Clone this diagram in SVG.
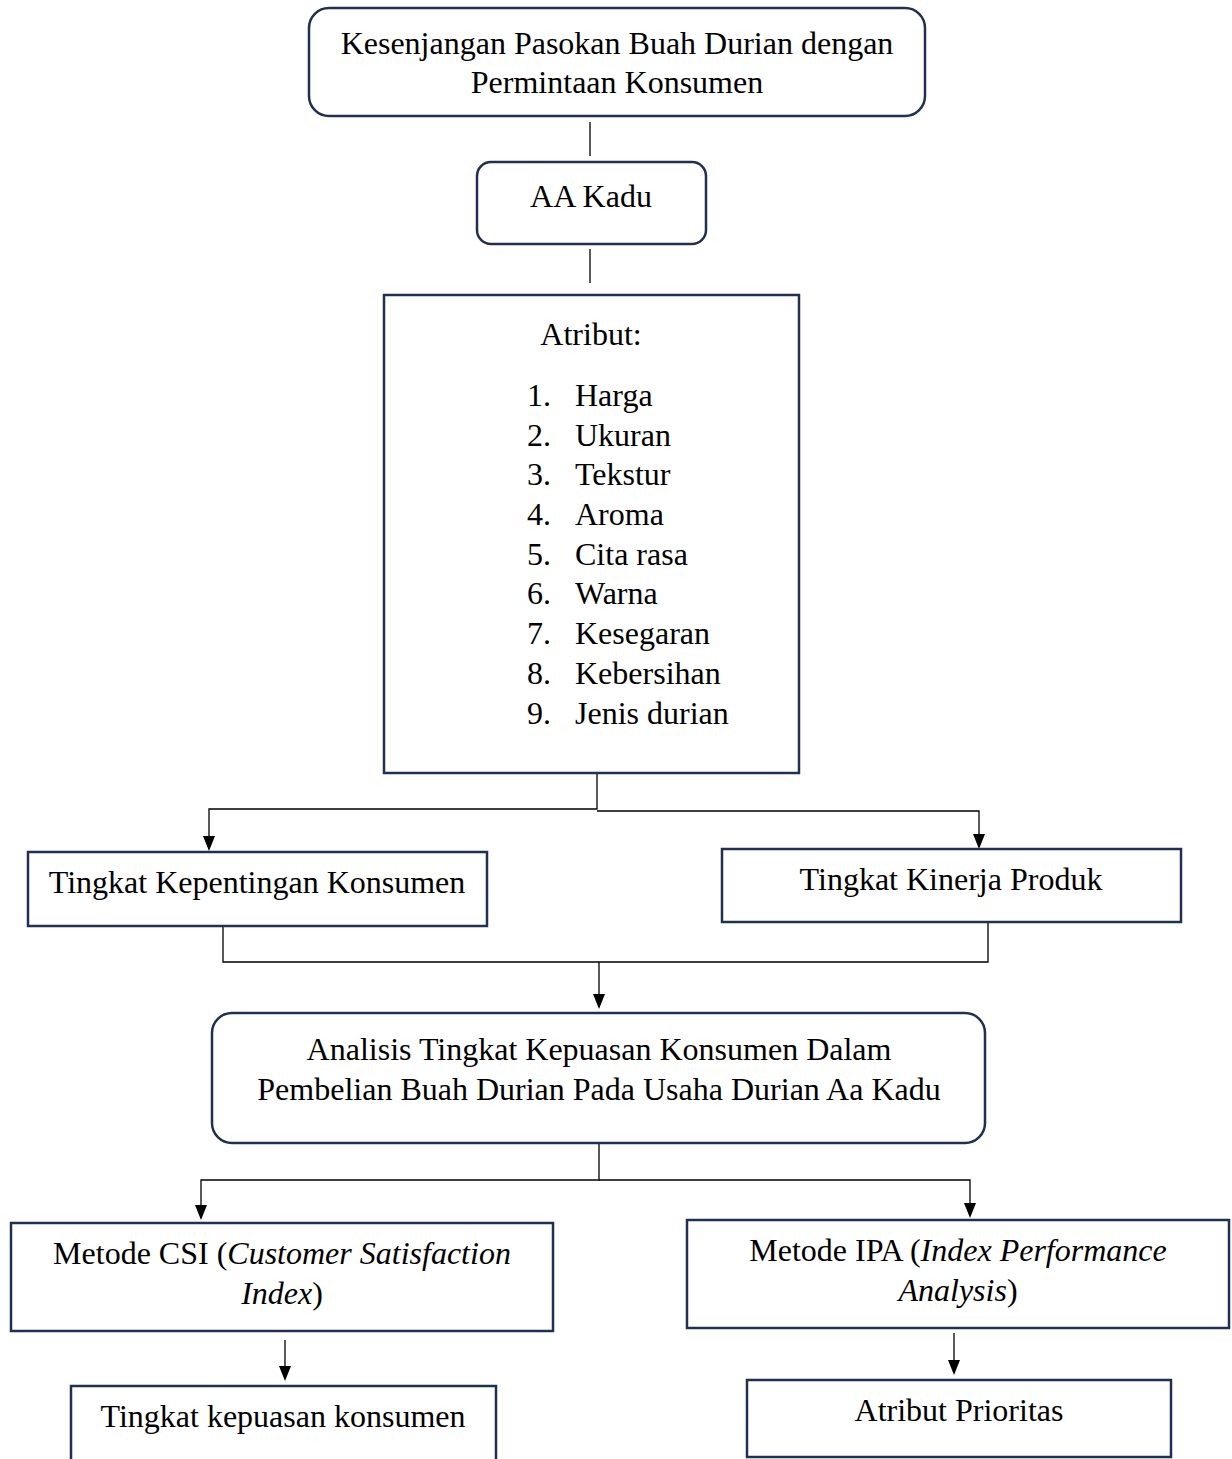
<svg xmlns="http://www.w3.org/2000/svg" width="1232" height="1459" viewBox="0 0 1232 1459">
<style>
.box{fill:#fff;stroke:#203050;stroke-width:2.5}
.t{font-family:"Liberation Serif","Times New Roman",serif;font-size:32px;fill:#000;text-anchor:middle}
.l{font-family:"Liberation Serif","Times New Roman",serif;font-size:32px;fill:#000}
.c{stroke:#000;stroke-width:1.3;fill:none}
.ah{fill:#000}
</style>
<rect width="1232" height="1459" fill="#fff"/>
<g id="connectors">
<line class="c" x1="590" y1="122" x2="590" y2="156"/>
<line class="c" x1="590" y1="249" x2="590" y2="283"/>
<polyline class="c" points="597,774 597,809 209,809 209,838"/>
<polyline class="c" points="597,811 979,811 979,836"/>
<path class="ah" d="M203,836 L215,836 L209,851 Z"/>
<path class="ah" d="M973,834 L985,834 L979,849 Z"/>
<polyline class="c" points="223,927 223,962 988,962 988,923"/>
<line class="c" x1="599" y1="962" x2="599" y2="996"/>
<path class="ah" d="M593,994 L605,994 L599,1009 Z"/>
<polyline class="c" points="599,1144 599,1180 201,1180 201,1208"/>
<polyline class="c" points="599,1180 970,1180 970,1206"/>
<path class="ah" d="M195,1205 L207,1205 L201,1220 Z"/>
<path class="ah" d="M964,1203 L976,1203 L970,1218 Z"/>
<line class="c" x1="285" y1="1340" x2="285" y2="1368"/>
<path class="ah" d="M279,1366 L291,1366 L285,1381 Z"/>
<line class="c" x1="954" y1="1333" x2="954" y2="1362"/>
<path class="ah" d="M948,1360 L960,1360 L954,1375 Z"/>
</g>
<g id="n-kesenjangan">
<rect class="box" x="309" y="8" width="616" height="108" rx="20"/>
<text class="t" x="617" y="54">Kesenjangan Pasokan Buah Durian dengan</text>
<text class="t" x="617" y="93">Permintaan Konsumen</text>
</g>
<g id="n-aakadu">
<rect class="box" x="477" y="162" width="229" height="82" rx="14"/>
<text class="t" x="591" y="207">AA Kadu</text>
</g>
<g id="n-atribut">
<rect class="box" x="384" y="295" width="415" height="478"/>
<text class="t" x="591" y="345">Atribut:</text>
<text class="l" x="527" y="406">1.</text><text class="l" x="575" y="406">Harga</text>
<text class="l" x="527" y="446">2.</text><text class="l" x="575" y="446">Ukuran</text>
<text class="l" x="527" y="485">3.</text><text class="l" x="575" y="485">Tekstur</text>
<text class="l" x="527" y="525">4.</text><text class="l" x="575" y="525">Aroma</text>
<text class="l" x="527" y="565">5.</text><text class="l" x="575" y="565">Cita rasa</text>
<text class="l" x="527" y="604">6.</text><text class="l" x="575" y="604">Warna</text>
<text class="l" x="527" y="644">7.</text><text class="l" x="575" y="644">Kesegaran</text>
<text class="l" x="527" y="684">8.</text><text class="l" x="575" y="684">Kebersihan</text>
<text class="l" x="527" y="724">9.</text><text class="l" x="575" y="724">Jenis durian</text>
</g>
<g id="n-kepentingan">
<rect class="box" x="28" y="852" width="459" height="74"/>
<text class="t" x="257" y="893">Tingkat Kepentingan Konsumen</text>
</g>
<g id="n-kinerja">
<rect class="box" x="722" y="849" width="459" height="73"/>
<text class="t" x="951" y="890">Tingkat Kinerja Produk</text>
</g>
<g id="n-analisis">
<rect class="box" x="212" y="1013" width="773" height="130" rx="20"/>
<text class="t" x="599" y="1060">Analisis Tingkat Kepuasan Konsumen Dalam</text>
<text class="t" x="599" y="1100">Pembelian Buah Durian Pada Usaha Durian Aa Kadu</text>
</g>
<g id="n-csi">
<rect class="box" x="11" y="1223" width="542" height="108"/>
<text class="t" x="282" y="1264">Metode CSI (<tspan font-style="italic">Customer Satisfaction</tspan></text>
<text class="t" x="282" y="1304"><tspan font-style="italic">Index</tspan>)</text>
</g>
<g id="n-ipa">
<rect class="box" x="687" y="1220" width="542" height="108"/>
<text class="t" x="958" y="1261">Metode IPA (<tspan font-style="italic">Index Performance</tspan></text>
<text class="t" x="958" y="1301"><tspan font-style="italic">Analysis</tspan>)</text>
</g>
<g id="n-kepuasan">
<rect class="box" x="71" y="1386" width="425" height="80"/>
<text class="t" x="283" y="1427">Tingkat kepuasan konsumen</text>
</g>
<g id="n-prioritas">
<rect class="box" x="747" y="1380" width="424" height="77"/>
<text class="t" x="959" y="1421">Atribut Prioritas</text>
</g>
</svg>
